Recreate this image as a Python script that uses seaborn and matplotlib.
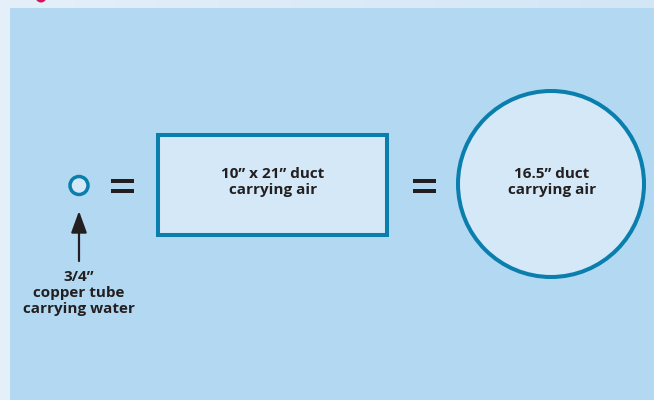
import matplotlib
matplotlib.use("Agg")
import matplotlib.pyplot as plt
import seaborn as sns
import numpy as np
from matplotlib.patches import Rectangle, Circle
from matplotlib.colors import LinearSegmentedColormap

sns.set_theme(style="white")
plt.rcParams['font.family'] = ['Open Sans', 'DejaVu Sans']

# content
labels = ["3/4\u201d\ncopper tube\ncarrying water", "10\u201d x 21\u201d duct\ncarrying air", "16.5\u201d duct\ncarrying air"]

W, H = 654, 400
fig = plt.figure(figsize=(W / 100, H / 100), dpi=100)
ax = fig.add_axes([0, 0, 1, 1])
ax.set_xlim(0, W)
ax.set_ylim(H, 0)
ax.axis("off")

outer = "#e4eff9"
panel = "#b3d9f2"
fill = "#d4e8f7"
stroke = "#0a7fad"
ink = "#231f20"

fig.patch.set_facecolor(outer)
grad = np.linspace(0, 1, 256)[None, :]
cm = LinearSegmentedColormap.from_list("g", [outer, "#d3e6f6"])
ax.imshow(grad, extent=(0, W, 8, 0), cmap=cm, aspect="auto", zorder=0)
ax.add_patch(Rectangle((0, 0), 10, H, color=outer, zorder=1, lw=0))
ax.add_patch(Rectangle((10, 8), W - 10, H - 8, color=panel, zorder=1, lw=0))
ax.add_patch(Circle((41, -3), 5.5, color="#d4145a", zorder=2, lw=0))

# small tube
ax.add_patch(Circle((79, 185.5), 9, facecolor=fill, edgecolor=stroke, lw=2.5, zorder=3))
# equals signs
for x0 in (111, 413):
    for yy in (181, 191):
        ax.add_patch(Rectangle((x0, yy - 2), 23, 4, color=ink, lw=0, zorder=3))
# rectangle duct
ax.add_patch(Rectangle((158, 135), 229, 100, facecolor=fill, edgecolor=stroke, lw=2.9, zorder=3))
# round duct
ax.add_patch(Circle((551, 184), 93, facecolor=fill, edgecolor=stroke, lw=2.9, zorder=3))

# arrow
ax.annotate("", xy=(79, 211), xytext=(79, 261),
            arrowprops=dict(arrowstyle="-|>,head_length=1.1,head_width=0.4", color=ink, lw=1.6,
                            shrinkA=0, shrinkB=0),
            zorder=4)

fs = 11
ax.text(79, 293, labels[0], ha="center", va="center", fontsize=fs, fontweight="bold",
        color=ink, linespacing=1.2, zorder=5)
ax.text(273, 182, labels[1], ha="center", va="center", fontsize=fs, fontweight="bold",
        color=ink, linespacing=1.15, zorder=5)
ax.text(552, 182, labels[2], ha="center", va="center", fontsize=fs, fontweight="bold",
        color=ink, linespacing=1.15, zorder=5)

fig.savefig("out.png", dpi=100, facecolor=outer)
